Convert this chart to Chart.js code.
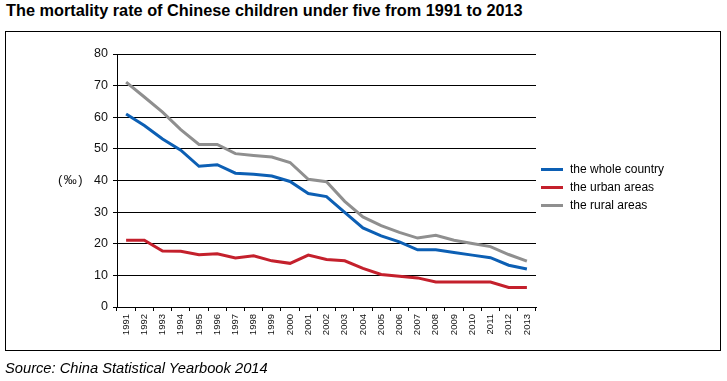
<!DOCTYPE html>
<html>
<head>
<meta charset="utf-8">
<script src="https://cdn.jsdelivr.net/npm/chart.js@4/dist/chart.umd.min.js"></script>
<style>
  html, body { margin: 0; padding: 0; background: #fff; }
  body { width: 727px; height: 381px; position: relative; overflow: hidden; font-family: "Liberation Sans", Arial, sans-serif; color: #000; }
  #title { position: absolute; left: 6px; top: 1px; font-size: 16.3px; font-weight: bold; white-space: nowrap; }
  #frame { position: absolute; left: 5px; top: 31px; width: 716px; height: 320px; border: 1px solid #000; box-sizing: border-box; }
  #source { position: absolute; left: 5px; top: 360px; font-size: 14.7px; font-style: italic; white-space: nowrap; }
  #unit { position: absolute; left: 58px; top: 172px; font-size: 13px; letter-spacing: 1.5px; white-space: nowrap; color: #111; }
  #legend { position: absolute; left: 541px; top: 160px; font-size: 12px; }
  .li { position: relative; height: 18px; line-height: 18px; white-space: nowrap; }
  .sw { position: absolute; left: 0; top: 8px; width: 22px; height: 3px; }
  .lt { position: absolute; left: 29px; top: 0; }
  canvas { position: absolute; left: 0; top: 0; }
</style>
</head>
<body>
<div id="title">The mortality rate of Chinese children under five from 1991 to 2013</div>
<div id="frame"></div>
<canvas id="c" width="727" height="381"></canvas>
<div id="unit">(‰)</div>
<div id="legend"></div>
<div id="source">Source: China Statistical Yearbook 2014</div>
<script>
const years = ["1991","1992","1993","1994","1995","1996","1997","1998","1999","2000","2001","2002","2003","2004","2005","2006","2007","2008","2009","2010","2011","2012","2013"];
const wholeCountry = [61.0,57.4,53.1,49.6,44.5,45.0,42.3,42.0,41.4,39.7,35.9,34.9,29.9,25.0,22.5,20.6,18.1,18.1,17.2,16.4,15.6,13.2,12.0];
const urbanAreas   = [21.1,21.1,17.7,17.6,16.5,16.8,15.5,16.2,14.6,13.8,16.4,15.0,14.6,12.2,10.3, 9.7, 9.2, 7.9, 7.9, 7.9, 7.9, 6.2, 6.2];
const ruralAreas   = [71.1,66.4,61.6,56.1,51.4,51.4,48.5,47.9,47.4,45.7,40.4,39.6,33.4,28.5,25.7,23.6,21.8,22.7,21.1,20.1,19.1,16.6,14.5];
const seriesNames  = ["the whole country","the urban areas","the rural areas"];
const seriesColors = ["#0c5fb4","#c4202c","#8f8f8f"];
const yTicks = [0,10,20,30,40,50,60,70,80];

const datasets = [wholeCountry, urbanAreas, ruralAreas].map((d, i) => ({
  label: seriesNames[i],
  data: d,
  borderColor: seriesColors[i],
  backgroundColor: seriesColors[i],
  borderWidth: 3,
  pointRadius: 0,
  tension: 0,
  fill: false
}));

const leg = document.getElementById('legend');
seriesNames.forEach((n, i) => {
  const d = document.createElement('div');
  d.className = 'li';
  d.innerHTML = '<span class="sw" style="background:' + seriesColors[i] + '"></span><span class="lt">' + n + '</span>';
  leg.appendChild(d);
});

new Chart(document.getElementById('c'), {
  type: 'line',
  data: { labels: years, datasets: datasets },
  options: {
    responsive: false,
    animation: false,
    devicePixelRatio: 1,
    layout: { padding: { left: 77, right: 191, top: 54, bottom: 44 } },
    plugins: { legend: { display: false }, tooltip: { enabled: false } },
    scales: {
      x: {
        type: 'category',
        offset: true,
        afterFit: (s) => { s.height = 30; },
        grid: { display: true, offset: true, drawOnChartArea: false, drawTicks: true, tickLength: 4, color: '#000', lineWidth: 1 },
        border: { display: true, color: '#000', width: 1 },
        ticks: { autoSkip: false, maxRotation: 90, minRotation: 90, padding: 3, color: '#111', font: { family: '"Liberation Sans", Arial, sans-serif', size: 9.5 } }
      },
      y: {
        min: 0, max: 80,
        afterFit: (s) => { s.width = 40; },
        afterBuildTicks: (s) => { s.ticks = yTicks.map(v => ({ value: v })); },
        grid: { display: true, drawOnChartArea: true, drawTicks: true, tickLength: 4, color: '#000', lineWidth: 1 },
        border: { display: true, color: '#000', width: 1 },
        ticks: { padding: 5, color: '#111', font: { family: '"Liberation Sans", Arial, sans-serif', size: 12.5 } }
      }
    }
  }
});
</script>
</body>
</html>
